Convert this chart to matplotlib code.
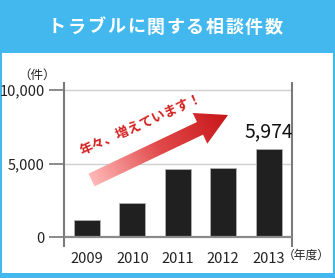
import numpy as np
import matplotlib
matplotlib.use("Agg")
from matplotlib import pyplot as plt
from matplotlib.patches import Rectangle, Polygon
from matplotlib.colors import LinearSegmentedColormap

plt.rcParams['font.family'] = ['Noto Sans CJK JP', 'DejaVu Sans']

# データ
years = ['2009', '2010', '2011', '2012', '2013']
counts = [1150, 2300, 4650, 4700, 5974]
yticks = [0, 5000, 10000]
ytick_labels = ['0', '5,000', '10,000']
title = 'トラブルに関する相談件数'
note = '年々、増えています！'

W, H = 335, 278
fig = plt.figure(figsize=(W / 100, H / 100), dpi=100)
fig.patch.set_facecolor('#42b8ee')

def fx(px):
    return px / W

def fy(py):
    return 1 - py / H

# 白いパネル
fig.patches.append(Rectangle((fx(2), fy(273)), fx(331), (273 - 53) / H,
                             transform=fig.transFigure, facecolor='white',
                             edgecolor='none', zorder=-5))

# タイトル（字間を空ける）
for i, ch in enumerate(title):
    fig.text(fx(57 + i * 19.7), fy(27), ch, color='white', fontsize=13,
             fontweight='bold', ha='center', va='center')

# 棒グラフ
ax = fig.add_axes([fx(64), fy(246), fx(292 - 64), (246 - 83) / H])
ax.set_facecolor('none')
x = np.arange(len(years))
ax.bar(x, counts, width=0.57, color='#202020', edgecolor='#b0b0b0',
       linewidth=0.6, zorder=3)
ax.set_xlim(-0.507, 4.515)
ax.set_ylim(-612, 10476)

for v in yticks[1:]:
    ax.axhline(v, color='#cfcfcf', linewidth=1.0, zorder=1)
ax.axhline(0, color='#8a8a8a', linewidth=1.6, zorder=4)

for s in ['top', 'bottom']:
    ax.spines[s].set_visible(False)
for s in ['left', 'right']:
    ax.spines[s].set_color('#7a7a7a')
    ax.spines[s].set_linewidth(1.5)

ax.set_yticks(yticks)
ax.set_yticklabels(ytick_labels)
ax.tick_params(axis='y', length=11, width=1.4, color='#8a8a8a', pad=3,
               labelsize=10.5, labelcolor='#222222')
ax.set_xticks(x)
ax.set_xticklabels(years)
ax.tick_params(axis='x', length=0, pad=4, labelsize=10.5, labelcolor='#222222')

ax.text(x[-1], counts[-1] + 500, f'{counts[-1]:,}', ha='center', va='bottom',
        fontsize=14, color='#111111')

fig.text(fx(37), fy(75), '（件）', ha='center', va='center', fontsize=9,
         color='#222222')
fig.text(fx(330), fy(255), '（年度）', ha='right', va='center', fontsize=8.5,
         color='#222222')

# 矢印（グラデーション）
ov = fig.add_axes([0, 0, 1, 1], zorder=5)
ov.set_xlim(0, W)
ov.set_ylim(H, 0)
ov.axis('off')

tail = np.array([91.5, 180.0])
tip = np.array([228.0, 115.0])
d = tip - tail
u = d / np.linalg.norm(d)
n = np.array([u[1], -u[0]])
hl, sw, hw = 31, 7, 17
base = tip - u * hl
pts = [tail + n * sw, base + n * sw, base + n * hw, tip,
       base - n * hw, base - n * sw, tail - n * sw]
poly = Polygon(pts, closed=True, facecolor='none', edgecolor='none')
ov.add_patch(poly)

gx, gy = np.meshgrid(np.linspace(80, 235, 200), np.linspace(105, 195, 120))
t = ((gx - tail[0]) * u[0] + (gy - tail[1]) * u[1]) / np.linalg.norm(d)
cmap = LinearSegmentedColormap.from_list('arr', ['#ffb8b8', '#e14a4a', '#c8161a'])
im = ov.imshow(np.clip(t, 0, 1), cmap=cmap, extent=(80, 235, 195, 105),
               origin='upper', aspect='auto', zorder=2)
im.set_clip_path(poly)
ov.set_xlim(0, W)
ov.set_ylim(H, 0)

ov.text(141, 124, note, rotation=24, ha='center', va='center', fontsize=9.5,
        fontweight='bold', color='#d42020', rotation_mode='anchor')

plt.savefig('out.png', dpi=100, facecolor=fig.get_facecolor())
